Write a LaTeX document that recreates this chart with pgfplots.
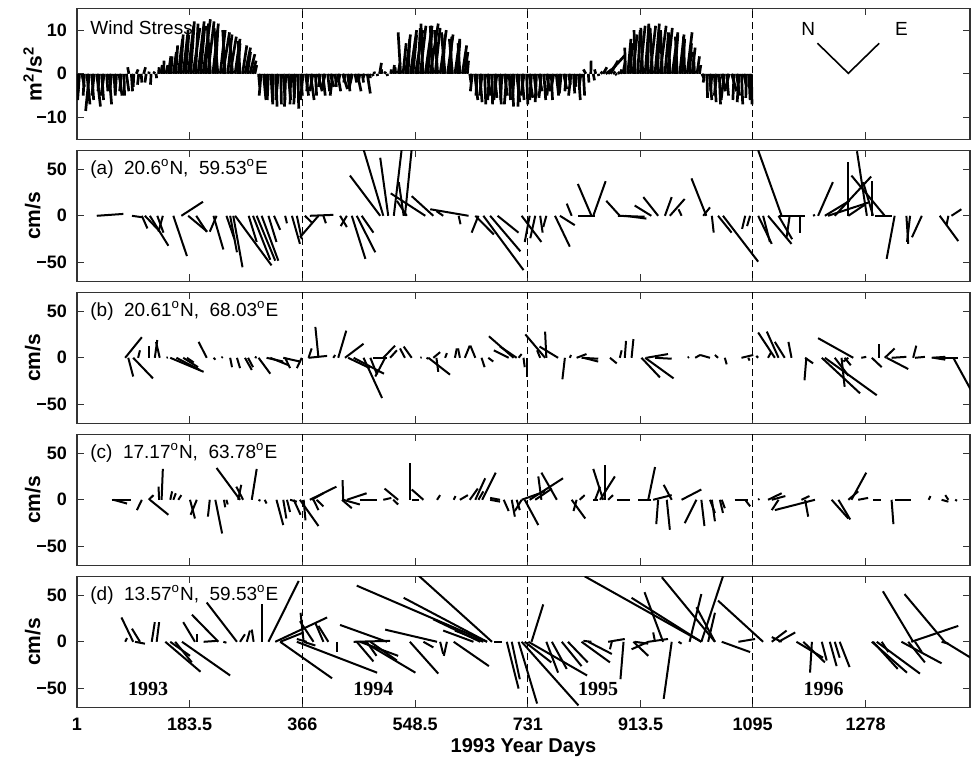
\documentclass[border=0pt]{standalone}
\usepackage{fontspec}
\setmainfont{Liberation Sans}
\newfontfamily\serifyear{Liberation Serif}
\usepackage{pgfplots}
\pgfplotsset{compat=1.18}
\usepackage{pgfplotstable}

% stick data: t = day, u = along-time offset (days), v = vector component
\pgfplotstableread[row sep=\\]{
t u v\\
1 2 -4\\ 5 -3 -6\\ 9 4 -3\\ 13 -2 -5\\ 17 5 -7\\ 21 -6 -8.5\\ 25 3 -6\\ 29 -4 -5\\ 33 6 -7.5\\ 37 -2 -4\\
41 3 -6\\ 45 -5 -5\\ 49 2 -4\\ 53 4 -7\\ 57 -3 -4\\ 61 2 -5\\ 65 -2 -4.5\\ 69 5 -5\\ 73 -3 -4\\ 77 1 -5\\
81 4 -4\\ 85 -2 1.5\\ 89 2 -4\\ 93 -1 -3\\ 97 3 1\\ 101 -2 -2.5\\ 105 1 -2\\ 109 3 1.5\\ 113 -2 -2\\ 117 1 0.5\\
121 -1 -2.5\\ 125 2 0.5\\ 129 1 -1\\
133 1 1.5\\ 137 2 2\\ 141 1 3\\ 145 3 2\\ 149 4 4\\ 153 2 4\\ 157 5 5\\ 161 3 6.5\\ 165 7 8\\ 169 4 9\\
173 8 10\\ 177 5 9\\ 181 9 11\\ 185 6 12\\ 189 11 10.5\\ 193 4 11.5\\ 197 10 12\\ 201 7 11\\ 205 12 12.5\\ 209 5 11.5\\
213 10 12\\ 217 -5 11\\ 221 9 11.5\\ 225 4 10\\ 229 -6 10.5\\ 233 8 10\\ 237 11 9.5\\ 241 -4 10\\ 245 7 9\\ 249 10 8.5\\
253 -5 8\\ 257 8 8\\ 261 4 7\\ 265 -3 7.5\\ 269 7 6.5\\ 273 9 6\\ 277 5 5\\ 281 8 4.5\\ 285 6 3\\ 289 3 2\\
295 2 -3\\ 299 -3 -5\\ 303 4 -6\\ 307 1 -5.5\\ 311 -2 -6\\ 315 3 -7\\ 319 -1 -6.5\\ 323 2 -7.5\\ 327 -4 -6\\ 331 1 -7\\
335 3 -6\\ 339 -2 -7.5\\ 343 4 -6\\ 347 -1 -7\\ 351 2 -5.5\\ 355 -3 -7\\ 359 1 -8\\ 363 3 -5\\
367 -4 -6\\ 371 5 -5\\ 375 -2 -4\\ 379 6 -6\\ 383 -5 -4\\ 387 2 -5\\ 391 7 -4\\ 395 -3 -3\\ 399 4 -5\\ 403 -6 -3.5\\
407 3 -4\\ 411 6 -3\\ 415 -4 -5\\ 419 2 -3\\ 423 5 -4\\ 427 -3 -2\\ 431 8 -3.5\\ 435 -2 -2\\ 439 4 -4\\ 443 1 -2\\
447 -5 -3\\ 451 3 -2\\ 455 6 -4\\ 459 -2 -1.5\\ 463 2 -2\\ 467 -3 -1\\ 471 5 -4.5\\ 475 1 -1\\ 479 2 -0.5\\
483 -1 0.5\\ 487 1 -0.5\\ 491 3 2.5\\ 495 -1 1\\ 499 2 0.5\\ 503 1 -0.5\\
509 1 1\\ 513 2 2\\ 517 -1 1.5\\ 521 3 2.5\\ 525 -4 9.5\\ 529 5 7\\ 533 8 9\\ 537 3 8\\ 541 10 10\\ 545 6 9\\
549 12 10\\ 553 4 10.5\\ 557 9 11\\ 561 -3 11.5\\ 565 11 11\\ 569 7 10\\ 573 13 11.5\\ 577 -4 11\\ 581 8 10.5\\ 585 -5 10\\
589 10 10\\ 593 4 9\\ 597 -6 9.5\\ 601 9 9\\ 605 3 8.5\\ 609 -5 8\\ 613 8 8\\ 617 4 7.5\\ 621 -3 7\\ 625 7 6.5\\
629 5 5\\ 633 2 3\\
637 2 -2\\ 641 -3 -4\\ 645 5 -6\\ 649 -2 -5\\ 653 4 -6.5\\ 657 -4 -5\\ 661 2 -7\\ 665 6 -5\\ 669 -3 -6\\ 673 1 -7\\
677 4 -5.5\\ 681 -5 -6\\ 685 3 -7\\ 689 -2 -6\\ 693 5 -5\\ 697 -4 -7\\ 701 2 -6\\ 705 3 -7.5\\ 709 -3 -6\\ 713 5 -6.5\\
717 -2 -7.5\\ 721 4 -6\\ 725 -5 -5\\ 729 2 -7\\ 733 6 -5.5\\ 737 -3 -6\\ 741 4 -5\\ 745 -2 -6.5\\ 749 5 -4\\ 753 -4 -5.5\\
757 3 -6\\ 761 6 -4\\ 765 -3 -5\\ 769 2 -6\\ 773 -5 -4\\ 777 4 -5\\ 781 1 -3\\ 785 -3 -4.5\\ 789 5 -3.5\\ 793 -2 -4\\
797 3 -2.5\\ 801 -4 -5\\ 805 2 -4.5\\ 809 -1 -3\\ 813 3 -6\\ 817 -3 -3\\ 821 2 -5\\ 825 -4 1\\ 829 1 -2\\ 833 0.5 3\\
837 2 -1.5\\ 841 -2 1\\ 845 1 -0.5\\ 849 3 0.5\\ 853 6 1.5\\ 857 10 1\\ 861 27 4.2\\ 865 12 3\\ 869 4 0.5\\ 873 2 -0.3\\
877 3 0.4\\ 881 2 1\\ 885 4 3\\ 889 -1 6\\ 893 5 8\\ 897 3 7\\ 901 7 9\\ 905 -2 10\\ 909 4 10\\ 913 8 11\\
917 -3 10.5\\ 921 6 11\\ 925 2 11.5\\ 929 9 11\\ 933 -4 10.5\\ 937 7 11.5\\ 941 3 10\\ 945 10 11\\ 949 -3 10\\ 953 6 9.5\\
957 8 10.5\\ 961 -2 9\\ 965 9 9.5\\ 969 5 9\\ 973 -3 8.5\\ 977 7 9\\ 981 4 8\\ 985 -2 8.5\\ 989 8 9.5\\ 993 3 7\\
997 5 6\\ 1001 -2 5\\ 1005 4 4\\ 1009 2 2\\
1013 3 -1\\ 1017 -2 -2\\ 1021 1 -5.5\\ 1025 4 -6\\ 1029 -2 -4\\ 1033 3 -6.5\\ 1037 -4 -5\\ 1041 2 -7\\ 1045 6 -4\\ 1049 -5 -6\\
1053 3 -5\\ 1057 -6 -3.5\\ 1061 8 -4\\ 1065 -2 -6\\ 1069 5 -5\\ 1073 -3 -6.5\\ 1077 2 -7\\ 1081 4 -3\\ 1085 -1 -5.5\\ 1089 2 -6\\
1093 1 -7\\
}\windtab

\pgfplotstableread[row sep=\\]{
t u v\\
33 43 2\\ 90 16 -1.5\\ 106 9 -13.5\\ 111 23 -16\\ 119 30 -32\\ 131 10 -18\\ 140 -7 -17\\ 157 22 -43\\ 170 35 15\\ 181 31 -17\\
194 17 -17\\ 222 16 -36\\ 227 -11 -17\\ 243 13 -25\\ 249 11 -39\\ 254 15 -55\\ 257 59 -53\\ 279 13 -28\\ 286 28 -47\\ 292 30 -48\\
300 27 -48\\ 311 13 -28\\ 320 10 -15\\ 338 3 -8\\ 349 13 -30\\ 357 8 -25\\ 370 11 -7\\ 378 38 1\\ 392 -30 -23\\ 400 4 -8\\
427 11 -12\\ 438 -10 -11\\ 446 22 -46\\ 454 30 -39\\ 462 19 -18\\ 492 -49 43\\ 497 -32 71\\ 505 -13 62\\ 514 14 78\\ 530 -8 36\\
532 12 78\\ 535 -16 16\\ 565 -56 24\\ 578 -35 21\\ 594 -11 5\\ 619 3 -9\\ 635 -62 7\\ 646 30 -20\\ 651 -11 -18\\ 659 65 -58\\
670 49 -38\\ 682 34 -18\\ 721 32 -28\\ 734 -8 -28\\ 743 -8 -24\\ 751 4 -18\\ 761 -5 -12\\ 775 24 -33\\ 783 24 -10\\ 802 -8 13\\
813 27 0\\ 834 -22 34\\ 837 20 37\\ 877 43 -1\\ 880 -22 16\\ 888 35 -3\\ 931 -27 11\\ 942 -24 20\\ 953 11 20\\ 961 24 18\\
980 -5 7\\ 1015 11 9\\ 1020 -24 40\\ 1029 3 -18\\ 1039 22 -18\\ 1047 57 -49\\ 1083 -5 -14\\ 1091 -5 -11\\ 1104 22 -30\\ 1112 11 -28\\
1120 38 -30\\ 1137 22 -25\\ 1137 43 0\\ 1142 -38 70\\ 1155 -5 -23\\ 1172 0 -18\\ 1193 3 1\\ 1201 24 36\\ 1212 40 16\\ 1217 65 14\\
1228 59 42\\ 1250 0 57\\ 1250 27 12\\ 1280 -16 69\\ 1288 0 37\\ 1290 -16 36\\ 1293 27 0\\ 1309 -54 43\\ 1325 -13 -46\\ 1344 3 -30\\
1350 -5 -28\\ 1369 -16 -23\\ 1398 30 -27\\ 1412 -3 -10\\ 1417 16 7\\
}\statA

\pgfplotstableread[row sep=\\]{
t u v\\
79 27 22\\ 84 8 -20\\ 92 32 -22\\ 100 3 8\\ 117 0 13\\ 127 4 19\\ 135 -6 17\\ 146 2 0.5\\ 152 54 -15\\ 162 38 -13\\
173 24 -10\\ 179 11 -5\\ 211 -13 17\\ 222 3 -2\\ 235 2 1\\ 249 3 -10\\ 260 5 -11\\ 273 11 -13\\ 278 8 -10\\ 292 -3 1\\
295 19 -17\\ 308 27 -4\\ 314 30 -8\\ 335 27 -4\\ 338 8 -11\\ 365 -8 -11\\ 376 5 10\\ 376 30 2\\ 392 -5 33\\ 416 3 3\\
424 13 29\\ 435 30 15\\ 440 35 -11\\ 449 49 -17\\ 465 30 -43\\ 476 11 -18\\ 481 22 0\\ 497 19 13\\ 500 -16 -20\\ 508 11 8\\
532 -8 10\\ 543 -13 12\\ 557 2 0.5\\ 567 3 -1\\ 570 35 -18\\ 578 11 6\\ 583 3 -15\\ 597 3 5\\ 613 3 10\\ 621 -3 10\\
629 8 13\\ 646 -8 13\\ 656 5 -10\\ 667 8 -4\\ 700 -24 8\\ 708 -40 23\\ 713 -27 12\\ 716 5 4\\ 724 2 -10\\ 729 0 -21\\
751 -5 8\\ 759 -32 25\\ 761 -2 28\\ 780 -30 12\\ 791 -4 -23\\ 799 2 3\\ 810 16 4\\ 818 27 -1\\ 821 24 -4\\ 864 11 -6\\
880 3 8\\ 888 2 18\\ 899 3 20\\ 915 30 -21\\ 921 46 -22\\ 923 35 4\\ 937 27 -1\\ 990 2 1\\ 1002 8 3\\ 1026 -16 3\\
1039 -5 3\\ 1050 3 -7\\ 1077 19 3\\ 1088 2 -3\\ 1104 -3 2\\ 1120 5 6\\ 1131 -27 27\\ 1137 -19 28\\ 1147 -16 17\\ 1158 -5 17\\
1180 13 -6\\ 1182 -3 -24\\ 1207 62 -38\\ 1212 84 -40\\ 1228 22 -19\\ 1239 5 -31\\ 1244 10 -8\\ 1250 -8 -4\\ 1258 -57 21\\ 1271 8 1\\
1288 16 -10\\ 1299 0 15\\ 1309 16 10\\ 1312 35 -12\\ 1320 24 1\\ 1355 5 13\\ 1358 16 1\\ 1385 22 1\\ 1388 19 -2\\ 1401 27 0\\
1420 29 -35\\
}\statB

\pgfplotstableread[row sep=\\]{
t u v\\
57 32 0\\ 60 22 -4\\ 106 -8 -11\\ 117 8 5\\ 119 30 -16\\ 134 -1 14\\ 138 2 33\\ 152 3 9\\ 157 4 7\\ 165 5 5\\
184 8 -20\\ 195 -10 -16\\ 216 -3 -18\\ 225 11 -36\\ 239 2 -8\\ 243 2 -5\\ 262 5 16\\ 265 -38 34\\ 270 -11 14\\ 284 8 33\\
295 3 -1\\ 305 3 -4\\ 324 11 -27\\ 335 5 -20\\ 341 5 -13\\ 346 11 -2\\ 352 11 -16\\ 362 30 -28\\ 368 3 -22\\ 378 43 14\\
381 19 7\\ 384 8 -11\\ 389 11 -7\\ 430 16 -9\\ 432 -1 21\\ 432 27 -5\\ 438 32 7\\ 459 27 0\\ 497 13 2\\ 513 8 -5\\
521 -22 12\\ 540 0 39\\ 543 11 0\\ 562 -19 11\\ 584 5 5\\ 611 3 4\\ 621 13 5\\ 637 13 12\\ 646 16 23\\ 651 8 9\\
657 22 29\\ 670 16 -2\\ 686 -16 2\\ 692 8 -12\\ 705 5 -18\\ 713 5 -11\\ 721 -11 -12\\ 726 22 -27\\ 721 38 9\\ 734 54 23\\
753 -5 25\\ 778 -25 29\\ 743 27 12\\ 802 22 -20\\ 810 -5 -12\\ 815 8 5\\ 856 0 37\\ 853 -16 33\\ 848 24 25\\ 840 8 14\\
861 8 5\\ 845 -8 0\\ 875 22 0\\ 910 19 0\\ 926 11 35\\ 931 -16 0\\ 934 30 5\\ 942 -3 -26\\ 956 5 -32\\ 964 -13 16\\
980 32 11\\ 1004 -19 -25\\ 1012 5 -28\\ 1029 5 -23\\ 1026 8 -14\\ 1042 5 -14\\ 1045 5 -9\\ 1066 22 0\\ 1083 8 -7\\ 1104 2 1\\
1120 22 7\\ 1126 22 4\\ 1137 -11 -11\\ 1196 -65 -11\\ 1180 5 -18\\ 1174 13 4\\ 1223 27 -20\\ 1234 19 -21\\ 1255 24 29\\ 1250 16 9\\
1266 16 2\\ 1290 13 0\\ 1320 3 -26\\ 1325 27 0\\ 1380 3 4\\ 1401 11 -2\\ 1412 -5 5\\ 1423 3 -1\\
}\statC

\pgfplotstableread[row sep=\\]{
t u v\\
79 3 4\\ 92 -19 26\\ 103 -13 14\\ 95 16 -2\\ 122 5 21\\ 130 4 21\\ 144 57 -32\\ 152 32 -15\\ 160 27 -22\\ 171 78 -36\\
192 -19 21\\ 195 0 8\\ 206 22 1\\ 230 -43 29\\ 238 5 -1\\ 260 -49 42\\ 265 8 8\\ 276 5 12\\ 287 -3 13\\ 300 0 40\\
311 49 65\\ 322 84 26\\ 330 38 10\\ 330 84 -39\\ 357 130 -33\\ 368 -5 31\\ 373 -16 3\\ 384 -22 22\\ 400 -13 20\\ 408 -16 17\\
368 19 -4\\ 422 0 -11\\ 449 59 1\\ 454 27 -21\\ 459 62 -15\\ 465 84 -33\\ 470 16 -15\\ 476 43 -20\\ 503 -76 18\\ 540 46 -34\\
562 16 -6\\ 584 -84 13\\ 589 5 -13\\ 600 -5 -15\\ 611 57 -26\\ 643 -49 12\\ 654 -76 24\\ 659 -46 12\\ 665 -211 60\\ 665 -135 47\\
673 -121 72\\ 676 13 0\\ 697 19 -50\\ 705 13 -40\\ 716 30 -66\\ 721 92 -68\\ 732 95 -36\\ 726 43 -22\\ 737 19 40\\ 761 19 -33\\
770 24 -29\\ 786 32 -26\\ 796 32 -22\\ 818 46 -22\\ 829 38 -13\\ 834 -13 1\\ 861 27 3\\ 867 -3 -8\\ 886 -5 -40\\ 902 24 -15\\
904 22 -2\\ 926 -27 -8\\ 937 -3 10\\ 926 32 3\\ 964 -13 -61\\ 975 5 -2\\ 1012 -189 70\\ 1012 -113 47\\ 950 -30 53\\ 1034 -86 69\\
993 19 51\\ 1012 35 70\\ 1034 -30 37\\ 1112 -73 44\\ 1023 11 31\\ 1045 46 -11\\ 1072 27 3\\ 1126 24 12\\ 1137 27 10\\ 1142 -16 5\\
1166 43 -17\\ 1177 35 -22\\ 1191 -3 -33\\ 1207 8 -20\\ 1220 11 -26\\ 1228 8 -17\\ 1236 16 -27\\ 1288 57 -33\\ 1290 40 -29\\ 1296 70 -34\\
1304 11 -11\\ 1355 -49 54\\ 1406 -65 51\\ 1352 76 17\\ 1336 65 -23\\ 1347 27 -22\\ 1358 11 -11\\ 1406 42 -17\\ 1401 11 -2\\
}\statD

\pgfplotsset{
  panel/.style={
    scale only axis, width=446.5pt, height=65.5pt,
    xmin=1, xmax=1447,
    xtick={1,183.5,366,548.5,731,913.5,1095,1278},
    xticklabels={},
    tick align=inside, major tick length=3.5pt,
    axis line style={black!80, line width=0.6pt},
    every tick/.style={black!80, line width=0.5pt},
    tick label style={font=\fontsize{9}{10}\selectfont\bfseries},
    yticklabel style={xshift=-1.5pt},
    xticklabel style={yshift=-2pt},
    ylabel style={at={(axis description cs:-0.0495,0.5)}, anchor=center,
      font=\fontsize{10.5}{12}\selectfont\bfseries},
  },
  curr/.style={panel, ymin=-70, ymax=70, ytick={-50,0,50},
    yticklabels={−50,0,50}, ylabel={cm/s}},
  stick/.style={black, line width=1pt, quiver={u=\thisrow{u}, v=\thisrow{v}}},
  yearline/.style={black, line width=0.6pt, dash pattern=on 3.5pt off 2pt},
}

\newcommand{\yearlines}[1]{%
  \addplot[yearline] coordinates {(366,-#1)(366,#1)};
  \addplot[yearline] coordinates {(731,-#1)(731,#1)};
  \addplot[yearline] coordinates {(1095,-#1)(1095,#1)};
}

\begin{document}
\begin{tikzpicture}
\tikzset{lbl/.style={font=\fontsize{9.5}{11}\selectfont, anchor=west, inner sep=0pt}}

% wind stress
\begin{axis}[panel, at={(0pt,0pt)}, anchor=north west,
  ymin=-15, ymax=15, ytick={-10,0,10}, yticklabels={−10,0,10},
  ylabel={m\textsuperscript{2}/s\textsuperscript{2}}]
  \yearlines{20}
  \addplot[stick, line width=1.35pt] table[x=t, y expr=0] {\windtab};
  \addplot[black, line width=0.8pt] coordinates {(1200,7)(1250,0.1)(1300,7)};
  \node[lbl] at (axis cs:22,10.6) {Wind Stress};
  \node[font=\fontsize{9.5}{11}\selectfont] at (axis cs:1185,10.2) {N};
  \node[font=\fontsize{9.5}{11}\selectfont] at (axis cs:1336,10.2) {E};
\end{axis}

\begin{axis}[curr, at={(0pt,-71pt)}, anchor=north west]
  \yearlines{90}
  \addplot[stick] table[x=t, y expr=0] {\statA};
  \node[lbl] at (axis cs:22,50) {(a)~~20.6\textsuperscript{o}N,~~59.53\textsuperscript{o}E};
\end{axis}

\begin{axis}[curr, at={(0pt,-142pt)}, anchor=north west]
  \yearlines{90}
  \addplot[stick] table[x=t, y expr=0] {\statB};
  \node[lbl] at (axis cs:22,50) {(b)~~20.61\textsuperscript{o}N,~~68.03\textsuperscript{o}E};
\end{axis}

\begin{axis}[curr, at={(0pt,-213pt)}, anchor=north west]
  \yearlines{90}
  \addplot[stick] table[x=t, y expr=0] {\statC};
  \node[lbl] at (axis cs:22,50) {(c)~~17.17\textsuperscript{o}N,~~63.78\textsuperscript{o}E};
\end{axis}

\begin{axis}[curr, at={(0pt,-284pt)}, anchor=north west,
  xticklabels={1,183.5,366,548.5,731,913.5,1095,1278},
  xlabel={1993 Year Days},
  xlabel style={at={(axis description cs:0.5,-0.31)}, anchor=center,
    font=\fontsize{10}{12}\selectfont\bfseries}]
  \yearlines{90}
  \addplot[stick] table[x=t, y expr=0] {\statD};
  \node[lbl] at (axis cs:22,50) {(d)~~13.57\textsuperscript{o}N,~~59.53\textsuperscript{o}E};
  \node[font=\serifyear\fontsize{10}{12}\selectfont\bfseries] at (axis cs:116,-50) {1993};
  \node[font=\serifyear\fontsize{10}{12}\selectfont\bfseries] at (axis cs:481,-50) {1994};
  \node[font=\serifyear\fontsize{10}{12}\selectfont\bfseries] at (axis cs:845,-50) {1995};
  \node[font=\serifyear\fontsize{10}{12}\selectfont\bfseries] at (axis cs:1210,-50) {1996};
\end{axis}

\pgfresetboundingbox
\path[use as bounding box] (-38.5pt,4.15pt) rectangle (447pt,-375.35pt);
\end{tikzpicture}
\end{document}
